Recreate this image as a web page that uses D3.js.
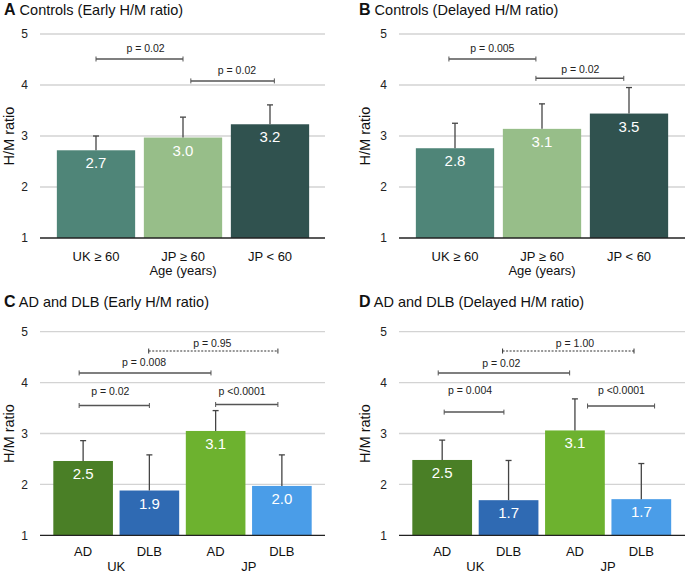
<!DOCTYPE html>
<html>
<head>
<meta charset="utf-8">
<script src="https://cdn.jsdelivr.net/npm/d3@7"></script>
<style>
  html, body { margin: 0; padding: 0; background: #fff; }
  svg { display: block; font-family: "Liberation Sans", Arial, Helvetica, sans-serif; }
</style>
</head>
<body>
<svg id="chart" width="685" height="574"></svg>
<script>
// ---------- data ----------
const yTicks = [1, 2, 3, 4, 5];

const controlCategories = ["UK \u2265 60", "JP \u2265 60", "JP < 60"];
const controlColors = ["#4f8578", "#97be89", "#30524f"];

const earlyControlValues = [2.72, 2.97, 3.23];
const earlyControlSD = [0.28, 0.40, 0.38];
const earlyControlLabels = ["2.7", "3.0", "3.2"];

const delayedControlValues = [2.76, 3.14, 3.44];
const delayedControlSD = [0.49, 0.49, 0.51];
const delayedControlLabels = ["2.8", "3.1", "3.5"];

const diseaseCategories = ["AD", "DLB", "AD", "DLB"];
const diseaseGroups = ["UK", "JP"];
const diseaseColors = ["#4a7f26", "#2f6ab3", "#6db22f", "#4a9de8"];

const earlyDiseaseValues = [2.46, 1.88, 3.05, 1.97];
const earlyDiseaseSD = [0.40, 0.70, 0.40, 0.61];
const earlyDiseaseLabels = ["2.5", "1.9", "3.1", "2.0"];

const delayedDiseaseValues = [2.48, 1.69, 3.06, 1.71];
const delayedDiseaseSD = [0.39, 0.78, 0.62, 0.70];
const delayedDiseaseLabels = ["2.5", "1.7", "3.1", "1.7"];

// significance brackets: ends and label x in category-index units, heights in H/M units
const earlyControlBrackets = [
  { from: 0.00, to: 1.00, y: 4.51, labelX: 0.57, labelY: 4.64, text: "p = 0.02", dashed: false },
  { from: 1.09, to: 2.05, y: 4.08, labelX: 1.62, labelY: 4.22, text: "p = 0.02", dashed: false }
];
const delayedControlBrackets = [
  { from: -0.07, to: 0.93, y: 4.51, labelX: 0.43, labelY: 4.64, text: "p = 0.005", dashed: false },
  { from: 0.93, to: 1.94, y: 4.13, labelX: 1.44, labelY: 4.24, text: "p = 0.02", dashed: false }
];
const earlyDiseaseBrackets = [
  { from: 0.99, to: 2.94, y: 4.62, labelX: 1.95, labelY: 4.70, text: "p = 0.95", dashed: true },
  { from: -0.06, to: 1.93, y: 4.19, labelX: 0.92, labelY: 4.33, text: "p = 0.008", dashed: false },
  { from: -0.06, to: 1.00, y: 3.55, labelX: 0.41, labelY: 3.75, text: "p = 0.02", dashed: false },
  { from: 2.00, to: 2.94, y: 3.57, labelX: 2.40, labelY: 3.75, text: "p <0.0001", dashed: false }
];
const delayedDiseaseBrackets = [
  { from: 0.91, to: 2.89, y: 4.62, labelX: 2.00, labelY: 4.70, text: "p = 1.00", dashed: true },
  { from: -0.06, to: 1.92, y: 4.19, labelX: 0.89, labelY: 4.30, text: "p = 0.02", dashed: false },
  { from: 0.03, to: 0.93, y: 3.42, labelX: 0.42, labelY: 3.77, text: "p = 0.004", dashed: false },
  { from: 2.19, to: 3.20, y: 3.54, labelX: 2.70, labelY: 3.77, text: "p <0.0001", dashed: false }
];

// ---------- drawing ----------
const svg = d3.select("#chart");

function drawPanel(cfg) {
  const g = svg.append("g");
  const y = d3.scaleLinear().domain([1, 5]).range([cfg.yBottom, cfg.yTop]);
  const keys = cfg.categories.map((c, i) => i);
  const x = d3.scaleBand().domain(keys).range(cfg.bandRange).paddingInner(0.1).paddingOuter(0.05);
  const cx = i => x(i) + x.bandwidth() / 2;
  const xi = d3.scaleLinear().domain([0, keys.length - 1]).range([cx(0), cx(keys.length - 1)]);

  // title
  const t = g.append("text").attr("x", cfg.titleX).attr("y", cfg.titleY)
    .attr("font-size", 14.5).attr("fill", "#111");
  t.append("tspan").attr("font-weight", "bold").attr("font-size", 16).text(cfg.letter);
  t.append("tspan").text(" " + cfg.title);

  // gridlines
  g.append("g").selectAll("line").data(yTicks.filter(d => d > 1)).join("line")
    .attr("x1", cfg.left).attr("x2", cfg.right)
    .attr("y1", d => y(d)).attr("y2", d => y(d))
    .attr("stroke", "#d3d3d3").attr("stroke-width", 1.3);

  // y axis (labels only)
  const ya = g.append("g").attr("transform", `translate(${cfg.left},0)`)
    .call(d3.axisLeft(y).tickValues(yTicks).tickSize(0).tickPadding(12).tickFormat(d3.format("d")));
  ya.select(".domain").remove();
  ya.selectAll("text").attr("font-size", 12).attr("fill", "#222")
    .attr("font-family", "Liberation Sans, Arial, sans-serif");

  // y label
  g.append("text")
    .attr("transform", `translate(${cfg.yLabelX},${(cfg.yTop + cfg.yBottom) / 2}) rotate(-90)`)
    .attr("text-anchor", "middle").attr("font-size", 14.5).attr("fill", "#111")
    .text("H/M ratio");

  // bars
  g.append("g").selectAll("rect").data(cfg.values).join("rect")
    .attr("x", (d, i) => x(i)).attr("width", x.bandwidth())
    .attr("y", d => y(d)).attr("height", d => y(1) - y(d))
    .attr("fill", (d, i) => cfg.colors[i]);

  // error bars
  const eb = g.append("g").attr("stroke", "#444").attr("stroke-width", 1.3);
  cfg.values.forEach((v, i) => {
    const top = y(v + cfg.sd[i]);
    eb.append("line").attr("x1", cx(i)).attr("x2", cx(i)).attr("y1", y(v)).attr("y2", top);
    eb.append("line").attr("x1", cx(i) - 3).attr("x2", cx(i) + 3).attr("y1", top).attr("y2", top);
  });

  // value labels
  g.append("g").selectAll("text").data(cfg.values).join("text")
    .attr("x", (d, i) => cx(i)).attr("y", d => y(d) + 18)
    .attr("text-anchor", "middle").attr("font-size", 15).attr("fill", "#fff")
    .text((d, i) => cfg.labels[i]);

  // baseline
  g.append("line").attr("x1", cfg.left).attr("x2", cfg.right)
    .attr("y1", y(1)).attr("y2", y(1)).attr("stroke", "#222").attr("stroke-width", 1.3);

  // x axis labels
  const xa = g.append("g").attr("transform", `translate(0,${y(1)})`)
    .call(d3.axisBottom(x).tickSize(0).tickPadding(cfg.xTickPad).tickFormat(i => cfg.categories[i]));
  xa.select(".domain").remove();
  xa.selectAll("text").attr("font-size", 13).attr("fill", "#111")
    .attr("font-family", "Liberation Sans, Arial, sans-serif");

  if (cfg.xTitle) {
    g.append("text").attr("x", cx(1)).attr("y", y(1) + 37)
      .attr("text-anchor", "middle").attr("font-size", 13).attr("fill", "#111").text(cfg.xTitle);
  }
  if (cfg.groups) {
    cfg.groups.forEach((gr, k) => {
      g.append("text").attr("x", (cx(2 * k) + cx(2 * k + 1)) / 2).attr("y", y(1) + 36)
        .attr("text-anchor", "middle").attr("font-size", 13).attr("fill", "#111").text(gr);
    });
  }

  // brackets
  const bg = g.append("g");
  cfg.brackets.forEach(b => {
    const x1 = xi(b.from), x2 = xi(b.to), yy = y(b.y);
    const col = b.dashed ? "#333" : "#555";
    bg.append("line").attr("x1", x1).attr("x2", x2).attr("y1", yy).attr("y2", yy)
      .attr("stroke", col).attr("stroke-width", b.dashed ? 1.1 : 1.5)
      .attr("stroke-dasharray", b.dashed ? "2,1.5" : null);
    [x1, x2].forEach(xx => bg.append("line").attr("x1", xx).attr("x2", xx)
      .attr("y1", yy - 2.5).attr("y2", yy + 2.5).attr("stroke", col).attr("stroke-width", 1));
    bg.append("text").attr("x", xi(b.labelX)).attr("y", y(b.labelY))
      .attr("text-anchor", "middle").attr("font-size", 10.5).attr("fill", "#222").text(b.text);
  });
}

drawPanel({
  letter: "A", title: "Controls (Early H/M ratio)", titleX: 4, titleY: 15,
  categories: controlCategories, values: earlyControlValues, sd: earlyControlSD,
  labels: earlyControlLabels, colors: controlColors, brackets: earlyControlBrackets,
  left: 40, right: 325, yTop: 34, yBottom: 238, bandRange: [52.5, 313.5],
  yLabelX: 14, xTickPad: 14, xTitle: "Age (years)"
});
drawPanel({
  letter: "B", title: "Controls (Delayed H/M ratio)", titleX: 359, titleY: 15,
  categories: controlCategories, values: delayedControlValues, sd: delayedControlSD,
  labels: delayedControlLabels, colors: controlColors, brackets: delayedControlBrackets,
  left: 399, right: 685, yTop: 34, yBottom: 238, bandRange: [411.5, 672.5],
  yLabelX: 370, xTickPad: 14, xTitle: "Age (years)"
});
drawPanel({
  letter: "C", title: "AD and DLB (Early H/M ratio)", titleX: 4, titleY: 306.5,
  categories: diseaseCategories, values: earlyDiseaseValues, sd: earlyDiseaseSD,
  labels: earlyDiseaseLabels, colors: diseaseColors, brackets: earlyDiseaseBrackets,
  left: 40, right: 325, yTop: 331.7, yBottom: 535.3, bandRange: [50, 315],
  yLabelX: 14, xTickPad: 11, groups: diseaseGroups
});
drawPanel({
  letter: "D", title: "AD and DLB (Delayed H/M ratio)", titleX: 359, titleY: 306.5,
  categories: diseaseCategories, values: delayedDiseaseValues, sd: delayedDiseaseSD,
  labels: delayedDiseaseLabels, colors: diseaseColors, brackets: delayedDiseaseBrackets,
  left: 399, right: 685, yTop: 331.7, yBottom: 535.3, bandRange: [409, 674.5],
  yLabelX: 370, xTickPad: 11, groups: diseaseGroups
});
</script>
</body>
</html>
